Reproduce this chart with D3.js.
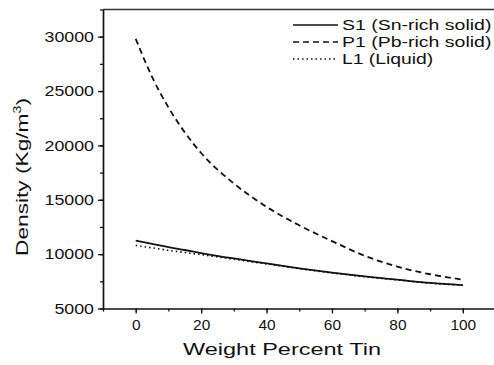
<!DOCTYPE html>
<html>
<head>
<meta charset="utf-8">
<script src="https://cdn.jsdelivr.net/npm/d3@7"></script>
<style>
  html, body { margin: 0; padding: 0; background: #fff; }
  svg text { font-family: "Liberation Sans", Arial, sans-serif; fill: #111; }
</style>
</head>
<body>
<div id="chart"></div>
<script>
// values
const weightPct = [0, 5, 10, 15, 20, 30, 40, 50, 60, 70, 80, 90, 100];
const s1Density = [11250, 10950, 10650, 10380, 10100, 9600, 9150, 8700, 8300, 7950, 7650, 7350, 7150];
const p1Density = [29800, 26300, 23500, 21200, 19300, 16500, 14350, 12650, 11200, 9850, 8850, 8150, 7650];
const l1Density = [10800, 10580, 10350, 10150, 9950, 9530, 9100, 8670, 8270, 7920, 7620, 7330, 7130];

const xTicks = [0, 20, 40, 60, 80, 100];
const yTicks = [5000, 10000, 15000, 20000, 25000, 30000];

const series = [
  { name: "S1 (Sn-rich solid)", values: s1Density, dash: null },
  { name: "P1 (Pb-rich solid)", values: p1Density, dash: "6,4" },
  { name: "L1 (Liquid)", values: l1Density, dash: "1.5,3" }
];

const width = 494, height = 365;
const margin = { top: 9.5, right: 0, bottom: 56.5, left: 103 };

const svg = d3.select("#chart")
  .append("svg")
  .attr("width", width)
  .attr("height", height);

const x = d3.scaleLinear().domain([-10, 110]).range([margin.left, margin.left + 392.5]);
const y = d3.scaleLinear().domain([5000, 32500]).range([height - margin.bottom, margin.top]);

// minor ticks first, then the labelled ones
svg.append("g")
  .attr("transform", `translate(0, ${y(5000)})`)
  .call(d3.axisBottom(x).tickValues(d3.range(-10, 111, 10)).tickSize(3).tickFormat(""))
  .call(g => g.select(".domain").remove());

svg.append("g")
  .attr("transform", `translate(${margin.left}, 0)`)
  .call(d3.axisLeft(y).tickValues(d3.range(5000, 32501, 2500)).tickSize(3).tickFormat(""))
  .call(g => g.select(".domain").remove());

const xAxis = svg.append("g")
  .attr("transform", `translate(0, ${y(5000)})`)
  .call(d3.axisBottom(x).tickValues(xTicks).tickSize(5).tickSizeOuter(0).tickPadding(4));

const yAxis = svg.append("g")
  .attr("transform", `translate(${margin.left}, 0)`)
  .call(d3.axisLeft(y).tickValues(yTicks).tickSize(5).tickSizeOuter(0).tickPadding(4).tickFormat(d3.format("d")));

svg.selectAll(".tick line").attr("stroke", "#111").attr("stroke-width", 1.3);
svg.selectAll(".domain").attr("stroke", "#111").attr("stroke-width", 1.7);

xAxis.selectAll("text").attr("font-size", 15).attr("dy", "0.85em")
  .attr("textLength", d => String(d).length * 8.6)
  .attr("lengthAdjust", "spacingAndGlyphs");
yAxis.selectAll("text").attr("font-size", 14.5)
  .attr("textLength", d => String(d).length * 9.9)
  .attr("lengthAdjust", "spacingAndGlyphs");

// top frame line
svg.append("line")
  .attr("x1", margin.left).attr("x2", width)
  .attr("y1", y(32500)).attr("y2", y(32500))
  .attr("stroke", "#333").attr("stroke-width", 1.4);

const line = d3.line()
  .x((d, i) => x(weightPct[i]))
  .y(d => y(d))
  .curve(d3.curveMonotoneX);

svg.selectAll(".curve")
  .data(series)
  .enter()
  .append("path")
  .attr("class", "curve")
  .attr("fill", "none")
  .attr("stroke", "#111")
  .attr("stroke-width", d => d.dash === "1.5,3" ? 1.6 : 1.8)
  .attr("stroke-dasharray", d => d.dash)
  .attr("d", d => line(d.values));

// axis titles
svg.append("text")
  .attr("x", 282).attr("y", 355)
  .attr("text-anchor", "middle")
  .attr("font-size", 16)
  .attr("textLength", 198).attr("lengthAdjust", "spacingAndGlyphs")
  .text("Weight Percent Tin");

const yTitle = svg.append("text")
  .attr("transform", "translate(28, 177) rotate(-90) scale(1.42, 1)")
  .attr("text-anchor", "middle")
  .attr("font-size", 16);
yTitle.append("tspan").text("Density (Kg/m");
yTitle.append("tspan").attr("font-size", 10).attr("dy", -7).text("3");
yTitle.append("tspan").attr("dy", 7).text(")");

// legend
const legend = svg.append("g").attr("transform", "translate(293, 25)");
const rows = legend.selectAll(".row")
  .data(series)
  .enter()
  .append("g")
  .attr("class", "row")
  .attr("transform", (d, i) => `translate(0, ${i * 17})`);

rows.append("line")
  .attr("x1", 0).attr("x2", 45)
  .attr("stroke", "#111")
  .attr("stroke-width", 1.4)
  .attr("stroke-dasharray", d => d.dash);

rows.append("text")
  .attr("x", 49).attr("dy", "0.35em")
  .attr("font-size", 14.5)
  .attr("textLength", d => d.name.length * 8.3)
  .attr("lengthAdjust", "spacingAndGlyphs")
  .text(d => d.name);
</script>
</body>
</html>
